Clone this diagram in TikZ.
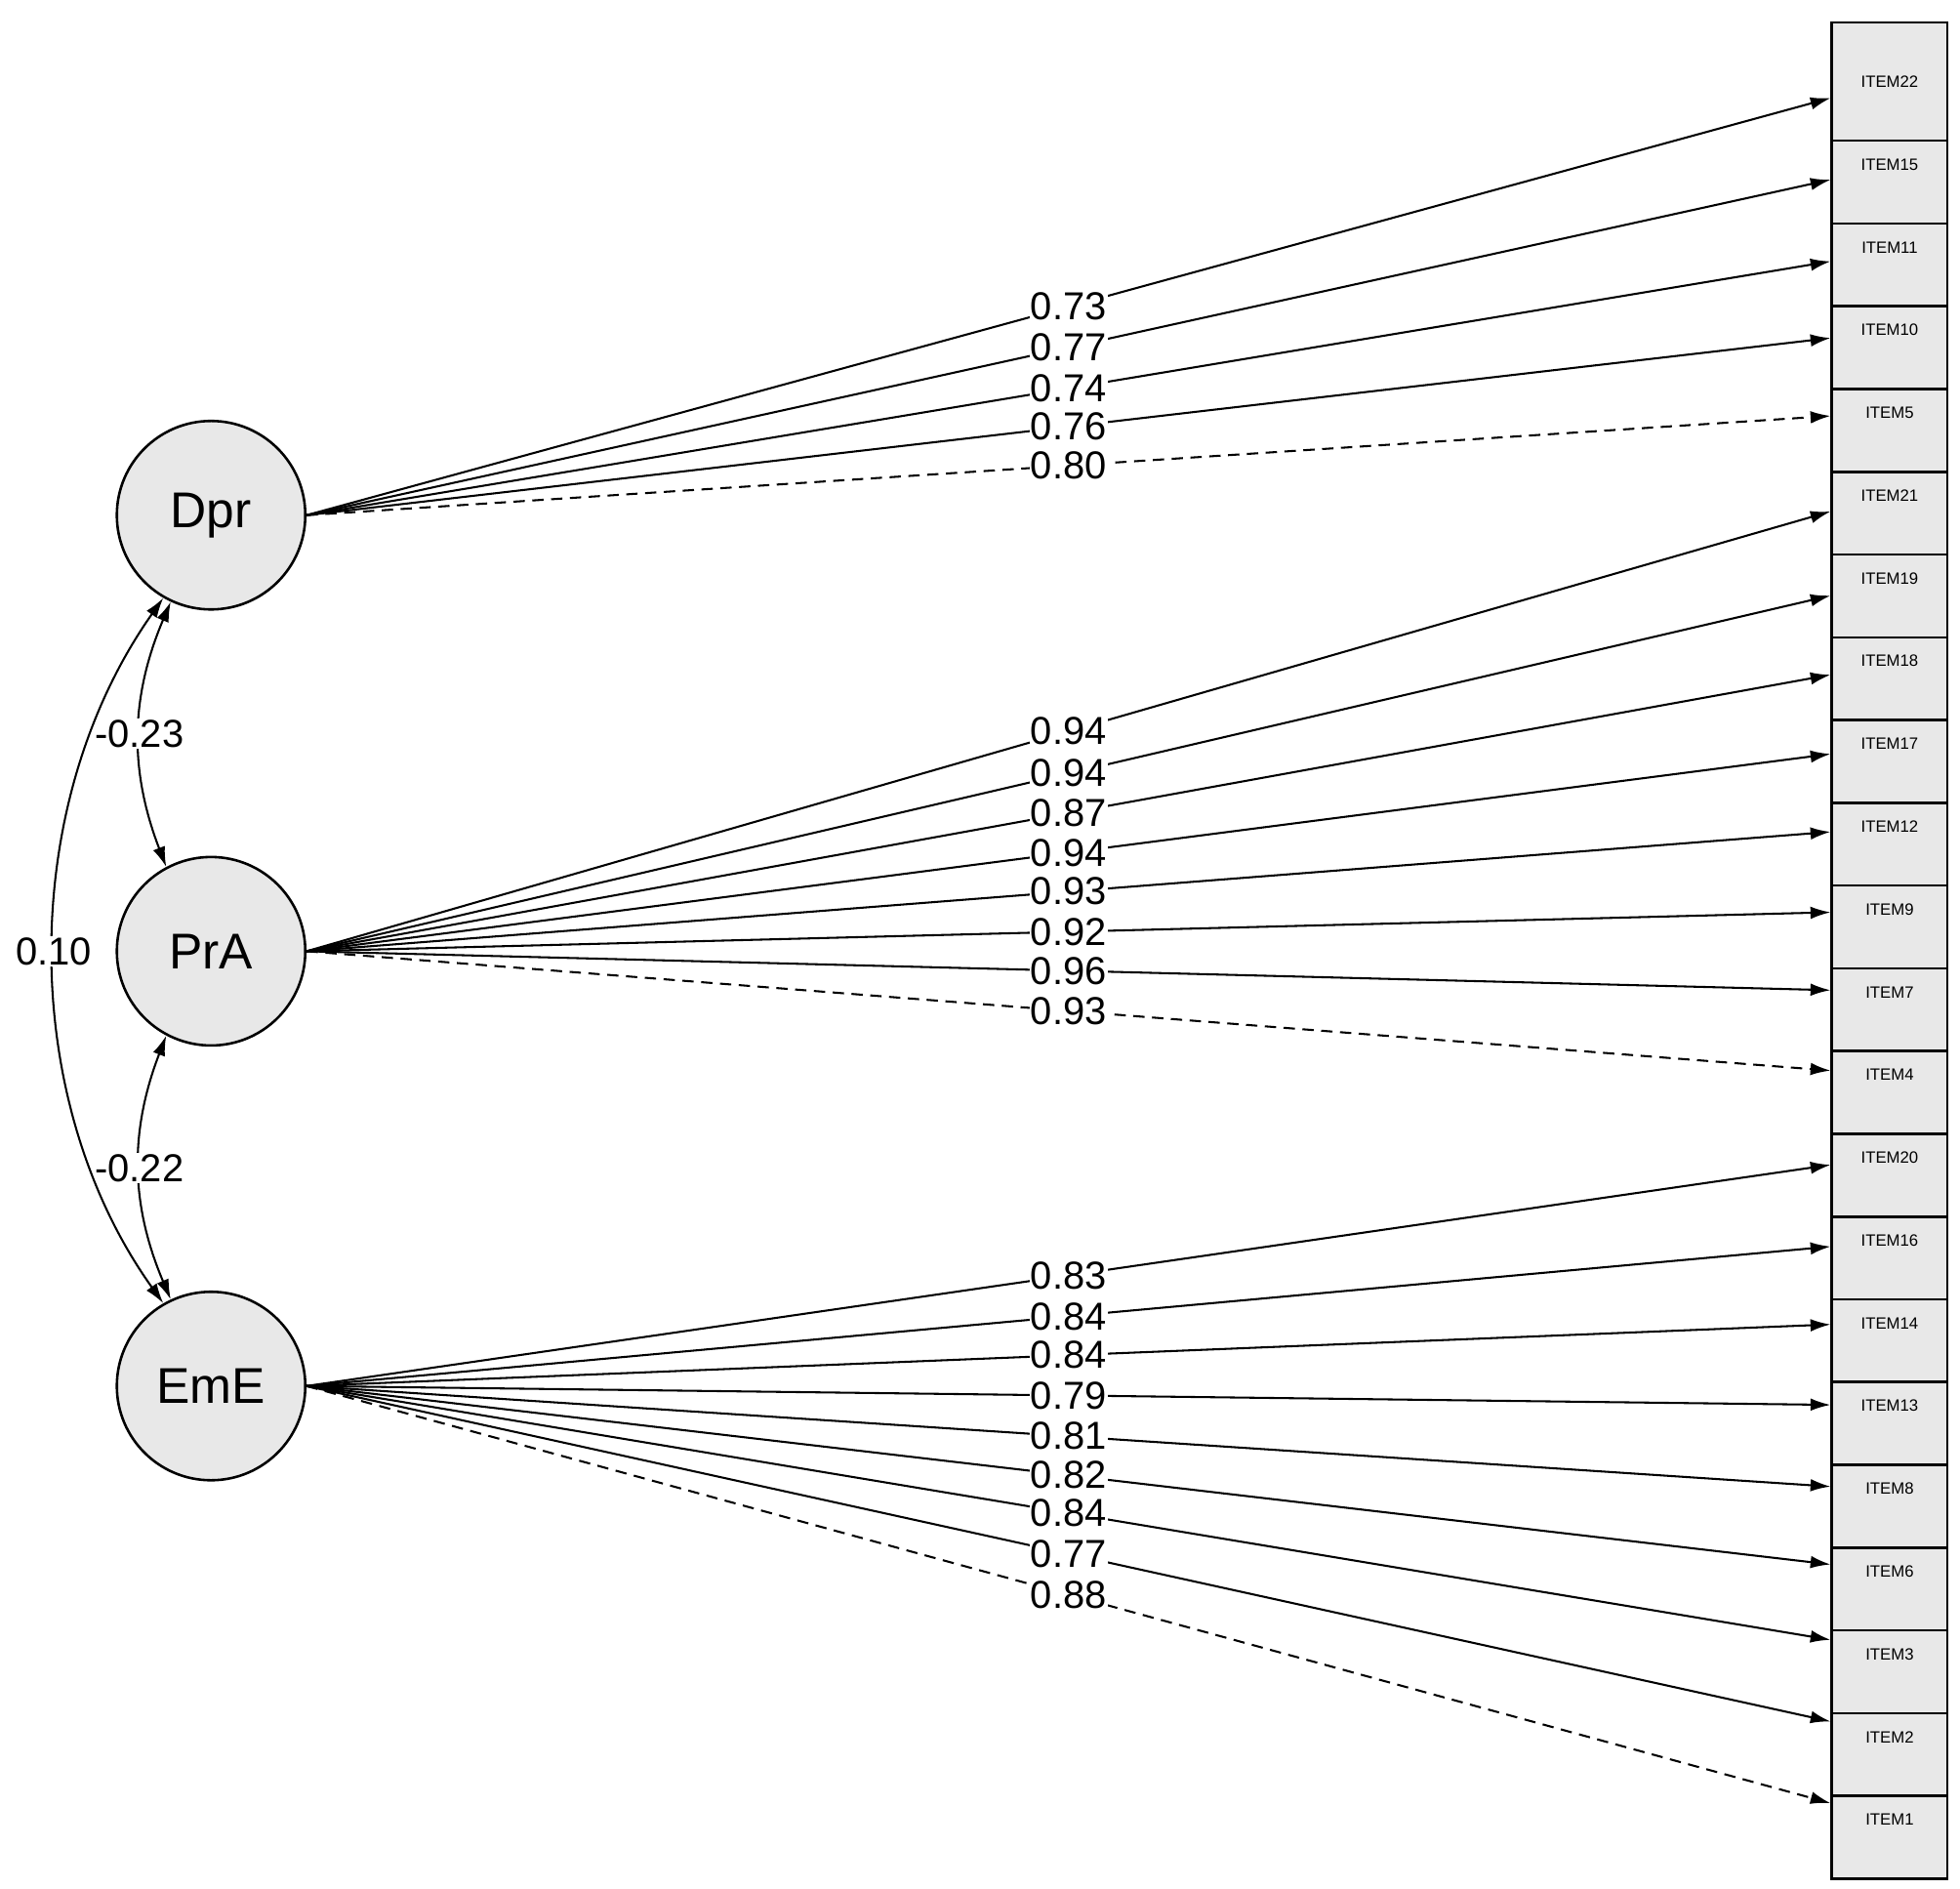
\documentclass[tikz,border=0pt]{standalone}
\usepackage{fontspec}
\setmainfont{Liberation Sans}
\usetikzlibrary{arrows.meta}
\begin{document}
\begin{tikzpicture}[x=1pt,y=-1pt,
  lat/.style={circle,draw,line width=2pt,fill=gray!18,minimum size=150pt,font=\fontsize{40}{40}\selectfont},
  it/.style={draw,line width=2pt,fill=gray!18,minimum width=92pt,minimum height=65.86pt,inner sep=0pt},
  ld/.style={-{Latex[length=16pt,width=10pt]},line width=1.6pt},
  dsh/.style={dash pattern=on 9pt off 6pt},
  lb/.style={fill=white,inner sep=1pt,font=\fontsize{31}{31}\selectfont},
  cv/.style={{Latex[length=16pt,width=10pt]}-{Latex[length=16pt,width=10pt]},line width=1.6pt}]
\useasboundingbox (0,0) rectangle (1560,1503);
\node[lat] (Dpr) at (168,410) {Dpr};
\node[lat] (PrA) at (168,757) {PrA};
\node[lat] (EmE) at (168,1103) {EmE};
\node[it,minimum height=94pt] (I22) at (1504,65) {};
\node[font=\fontsize{13}{13}\selectfont] at (1504,65) {ITEM22};
\foreach \n [count=\i] in {15,11,10,5,21,19,18,17,12,9,7,4,20,16,14,13,8,6,3,2,1}{
  \pgfmathsetmacro\yy{112+32.93+65.86*(\i-1)}
  \node[it] (I\n) at (1504,\yy) {};
  \node[font=\fontsize{13}{13}\selectfont] at (1504,\yy-14) {ITEM\n};
}
\foreach \n/\y/\v/\s in {22/78/0.73/solid,15/143/0.77/solid,11/208/0.74/solid,10/269/0.76/solid,5/331/0.80/dsh}{
  \coordinate (t\n) at (1457,\y);
  \draw[ld,\s] (Dpr.east) -- (t\n) node[lb,pos=0.5] {\v};}
\foreach \n/\y/\v/\s in {21/407/0.94/solid,19/474/0.94/solid,18/537/0.87/solid,17/600/0.94/solid,12/662/0.93/solid,9/726/0.92/solid,7/788/0.96/solid,4/852/0.93/dsh}{
  \coordinate (t\n) at (1457,\y);
  \draw[ld,\s] (PrA.east) -- (t\n) node[lb,pos=0.5] {\v};}
\foreach \n/\y/\v/\s in {20/927/0.83/solid,16/992/0.84/solid,14/1054/0.84/solid,13/1118/0.79/solid,8/1183/0.81/solid,6/1245/0.82/solid,3/1305/0.84/solid,2/1370/0.77/solid,1/1435/0.88/dsh}{
  \coordinate (t\n) at (1457,\y);
  \draw[ld,\s] (EmE.east) -- (t\n) node[lb,pos=0.5] {\v};}
\draw[cv] (Dpr.245) to[bend right=22] node[lb,pos=0.5] {-0.23} (PrA.118);
\draw[cv] (PrA.242) to[bend right=22] node[lb,pos=0.5] {-0.22} (EmE.115);
\coordinate (c1) at (14,640);
\coordinate (c2) at (14,875);
\draw[cv] (Dpr.240) .. controls (c1) and (c2) .. node[lb,pos=0.5] {0.10} (EmE.120);
\end{tikzpicture}
\end{document}
